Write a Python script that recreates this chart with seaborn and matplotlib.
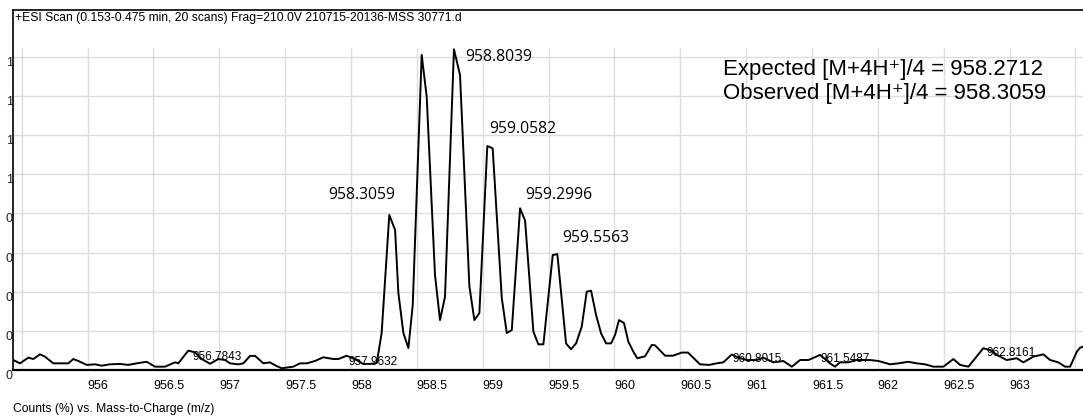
"""
Mass spectrum of the [M+4H]4+ isotope cluster, redrawn with seaborn.
"""

import numpy as np
import pandas as pd
import matplotlib
matplotlib.use("Agg")
import matplotlib.pyplot as plt
import seaborn as sns

# profile trace (m/z, intensity in axis units)
mz = [955.436, 955.487, 955.550, 955.588, 955.639, 955.677, 955.740, 955.854,
      955.892, 955.930, 955.994, 956.057, 956.107, 956.170, 956.246, 956.309,
      956.373, 956.449, 956.512, 956.588, 956.664, 956.689, 956.765, 956.816,
      956.867, 956.930, 956.993, 957.044, 957.082, 957.145, 957.183, 957.234,
      957.272, 957.335, 957.385, 957.436, 957.474, 957.562, 957.613, 957.664,
      957.727, 957.790, 957.866, 957.904, 957.968, 958.044, 958.092, 958.145,
      958.196, 958.233, 958.291, 958.335, 958.360, 958.398, 958.436, 958.469,
      958.537, 958.575, 958.638, 958.676, 958.714, 958.782, 958.828, 958.899,
      958.937, 958.975, 959.035, 959.076, 959.145, 959.183, 959.221, 959.284,
      959.322, 959.385, 959.423, 959.461, 959.532, 959.567, 959.633, 959.671,
      959.709, 959.752, 959.790, 959.823, 959.861, 959.899, 959.937, 959.975,
      960.005, 960.035, 960.073, 960.106, 960.144, 960.174, 960.233, 960.284,
      960.309, 960.385, 960.445, 960.511, 960.559, 960.605, 960.650, 960.719,
      960.777, 960.827, 960.891, 960.941, 961.005, 961.081, 961.131, 961.207,
      961.283, 961.347, 961.410, 961.473, 961.562, 961.637, 961.675, 961.713,
      961.776, 961.840, 961.941, 962.004, 962.042, 962.093, 962.156, 962.232,
      962.296, 962.359, 962.422, 962.498, 962.574, 962.625, 962.688, 962.801,
      962.852, 962.915, 962.979, 963.055, 963.105, 963.181, 963.257, 963.308,
      963.371, 963.422, 963.460, 963.511, 963.536, 963.574]

intensity = [0.051, 0.034, 0.063, 0.056, 0.080, 0.068, 0.034, 0.034,
             0.056, 0.046, 0.026, 0.029, 0.022, 0.029, 0.031, 0.026,
             0.034, 0.042, 0.017, 0.017, 0.039, 0.034, 0.099, 0.090,
             0.056, 0.032, 0.056, 0.051, 0.034, 0.029, 0.034, 0.072,
             0.072, 0.034, 0.039, 0.020, 0.009, 0.017, 0.034, 0.034,
             0.046, 0.065, 0.056, 0.056, 0.073, 0.051, 0.031, 0.031,
             0.036, 0.189, 0.792, 0.715, 0.393, 0.189, 0.112, 0.332,
             1.609, 1.396, 0.485, 0.255, 0.374, 1.638, 1.507, 0.429,
             0.255, 0.291, 1.144, 1.132, 0.368, 0.189, 0.204, 0.826,
             0.763, 0.196, 0.131, 0.131, 0.587, 0.592, 0.136, 0.106,
             0.136, 0.221, 0.400, 0.405, 0.281, 0.187, 0.136, 0.136,
             0.179, 0.255, 0.240, 0.145, 0.093, 0.060, 0.070, 0.128,
             0.126, 0.073, 0.073, 0.089, 0.089, 0.059, 0.029, 0.026,
             0.034, 0.039, 0.079, 0.063, 0.051, 0.051, 0.063, 0.039,
             0.046, 0.017, 0.051, 0.051, 0.077, 0.034, 0.017, 0.039,
             0.039, 0.051, 0.051, 0.046, 0.039, 0.029, 0.034, 0.042,
             0.034, 0.029, 0.017, 0.017, 0.056, 0.026, 0.017, 0.111,
             0.102, 0.073, 0.051, 0.060, 0.039, 0.068, 0.080, 0.051,
             0.039, 0.017, 0.017, 0.093, 0.114, 0.123]

# labelled peaks
big_peaks = ["958.3059", "958.8039", "959.0582", "959.2996", "959.5563"]
small_peaks = ["956.7843", "957.9632", "960.8015", "961.5487", "962.8161"]

x_grid = [955.5, 956, 956.5, 957, 957.5, 958, 958.5, 959, 959.5,
          960, 960.5, 961, 961.5, 962, 962.5, 963, 963.5]
x_labels = ["", "956", "956.5", "957", "957.5", "958", "958.5", "959", "959.5",
            "960", "960.5", "961", "961.5", "962", "962.5", "963", ""]
y_grid = [0, 0.2, 0.4, 0.6, 0.8, 1.0, 1.2, 1.4, 1.6]
y_labels = ["0", "0", "0", "0", "0", "1", "1", "1", "1"]

title = "+ESI Scan (0.153-0.475 min, 20 scans) Frag=210.0V 210715-20136-MSS 30771.d"
xlabel = "Counts (%) vs. Mass-to-Charge (m/z)"
expected = "Expected [M+4H\u207a]/4 = 958.2712"
observed = "Observed [M+4H\u207a]/4 = 958.3059"


def main():
    sns.set_style("white")
    plt.rcParams['font.family'] = ['Liberation Sans', 'DejaVu Sans']
    plt.rcParams['text.color'] = 'black'
    plt.rcParams['xtick.labelcolor'] = 'black'
    plt.rcParams['ytick.labelcolor'] = 'black'

    df = pd.DataFrame({"mz": mz, "intensity": intensity})

    fig = plt.figure(figsize=(10.83, 4.19), dpi=100)
    ax = fig.add_axes([13 / 1083, 49 / 419, 1070 / 1083, 360 / 419])

    GRID = "#dedede"
    # vertical grid stops below the header band
    ax.vlines(x_grid, 0, 1.644, color=GRID, lw=1.0, zorder=0)
    for yv in y_grid[1:]:
        ax.axhline(yv, color=GRID, lw=1.0, zorder=0)

    sns.lineplot(data=df, x="mz", y="intensity", color="black", lw=1.4,
                 estimator=None, sort=False, ax=ax, zorder=3)

    ax.set_xlim(955.434, 963.558)
    ax.set_ylim(0, 1.8386)

    ax.set_xticks(x_grid)
    ax.set_xticklabels(x_labels, ha="left", fontsize=9)
    ax.tick_params(axis="x", length=6, width=1.0, color=GRID, pad=1.5,
                   labelcolor="black")
    ax.set_yticks(y_grid)
    ax.set_yticklabels(y_labels, fontsize=9, va="top")
    ax.tick_params(axis="y", length=0, pad=0, labelcolor="#222222")
    ax.set_xlabel("")
    ax.set_ylabel("")

    for side in ["left", "top", "bottom"]:
        ax.spines[side].set_color("black")
        ax.spines[side].set_linewidth(1.2)
    ax.spines["bottom"].set_linewidth(1.6)
    ax.spines["right"].set_visible(False)

    # peak annotations
    big_pos = [(958.084, 0.894), (959.124, 1.599), (959.306, 1.231),
               (959.576, 0.894), (959.861, 0.674)]
    for lab, (xp, yp) in zip(big_peaks, big_pos):
        ax.text(xp, yp, lab, ha="center", va="center", fontsize=11.3,
                color="black", family=["Open Sans", "DejaVu Sans"], zorder=4)

    small_pos = [(956.987, 0.066), (958.167, 0.041), (961.087, 0.056),
                 (961.755, 0.056), (963.016, 0.087)]
    for lab, (xp, yp) in zip(small_peaks, small_pos):
        ax.text(xp, yp, lab, ha="center", va="center", fontsize=8.5,
                color="black", zorder=4)

    fig.text(15 / 1083, 1 - 18 / 419, title, ha="left", va="center", fontsize=8.7)
    fig.text(13 / 1083, 1 - 409 / 419, xlabel, ha="left", va="center", fontsize=8.7)
    fig.text(723 / 1083, 1 - 70 / 419, expected, ha="left", va="center", fontsize=16)
    fig.text(723 / 1083, 1 - 93 / 419, observed, ha="left", va="center", fontsize=16)

    fig.savefig("out.png", dpi=100)
    plt.close(fig)


if __name__ == "__main__":
    main()
